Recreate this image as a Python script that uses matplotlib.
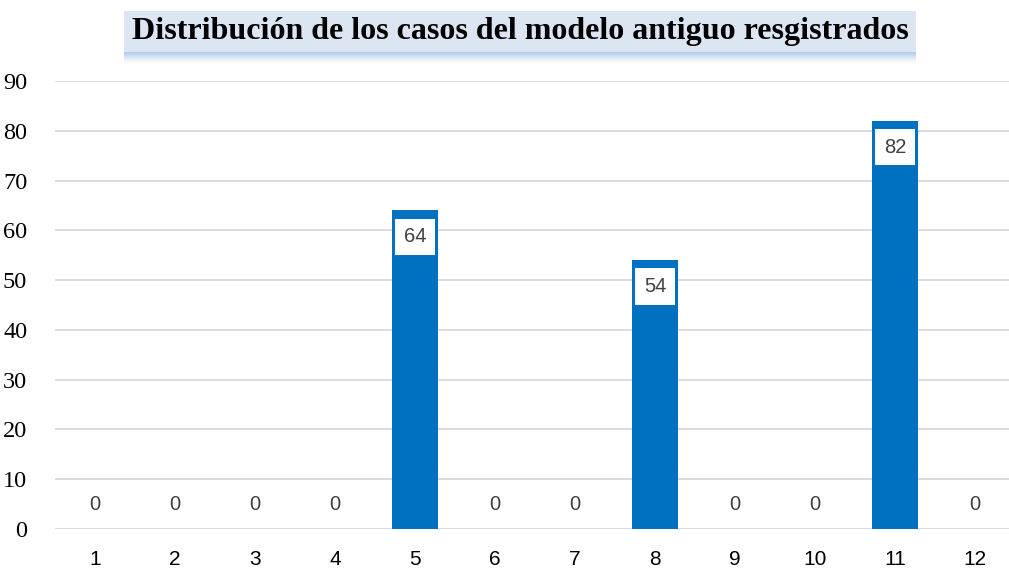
import numpy as np
import matplotlib
matplotlib.use('Agg')
import matplotlib.pyplot as plt
from matplotlib.patches import Rectangle

categories = [str(i) for i in range(1, 13)]
values = [0, 0, 0, 0, 64, 0, 0, 54, 0, 0, 82, 0]
title = 'Distribución de los casos del modelo antiguo resgistrados'

W, H = 1009, 572
fig = plt.figure(figsize=(W / 100, H / 100), dpi=100)
ax = fig.add_axes([55 / W, 43 / H, (1010 - 55) / W, (529 - 81) / H])

x = np.arange(1, len(values) + 1)
ax.bar(x, values, width=0.57, color='#0070C0', zorder=3)
ax.set_xlim(0.5, 12.4375)
ax.set_ylim(0, 90)
ax.set_yticks(range(0, 91, 10))
ax.set_xticks(x)
ax.set_xticklabels(categories, family='Liberation Sans', fontsize=15, color='black')
for lbl in ax.get_yticklabels():
    lbl.set_family('Liberation Serif')
    lbl.set_fontsize(17.5)
ax.tick_params(axis='x', length=0, pad=15)
ax.tick_params(axis='y', length=0, pad=20)
ax.grid(axis='y', color='#d9d9d9', linewidth=1.3, zorder=0)
for s in ax.spines.values():
    s.set_visible(False)

# data labels
for xi, v in zip(x, values):
    if v > 0:
        ax.text(xi, v - 5.3, str(v), ha='center', va='center', fontsize=14.5,
                family='Liberation Sans', color='#404040', zorder=5,
                bbox=dict(facecolor='white', edgecolor='none', pad=6.3))
    else:
        ax.text(xi, 4.9, str(v), ha='center', va='center', fontsize=14.5,
                family='Liberation Sans', color='#404040', zorder=5)

# title box with soft shadow
n = 12
for i in range(n):
    a = 0.55 * (1 - i / n) ** 1.5
    fig.patches.append(Rectangle((124 / W, (H - 53 - i) / H), 792 / W, 1.05 / H,
                                 transform=fig.transFigure, facecolor='#6fa0d8',
                                 edgecolor='none', alpha=a, zorder=1))
fig.patches.append(Rectangle((124 / W, (H - 52) / H), 792 / W, 41 / H,
                             transform=fig.transFigure, facecolor='#dce6f2',
                             edgecolor='none', zorder=2))
fig.text(520 / W, (H - 31) / H, title, ha='center', va='center',
         family='Liberation Serif', fontweight='bold', fontsize=23, zorder=3)

fig.savefig('out.png', dpi=100)
